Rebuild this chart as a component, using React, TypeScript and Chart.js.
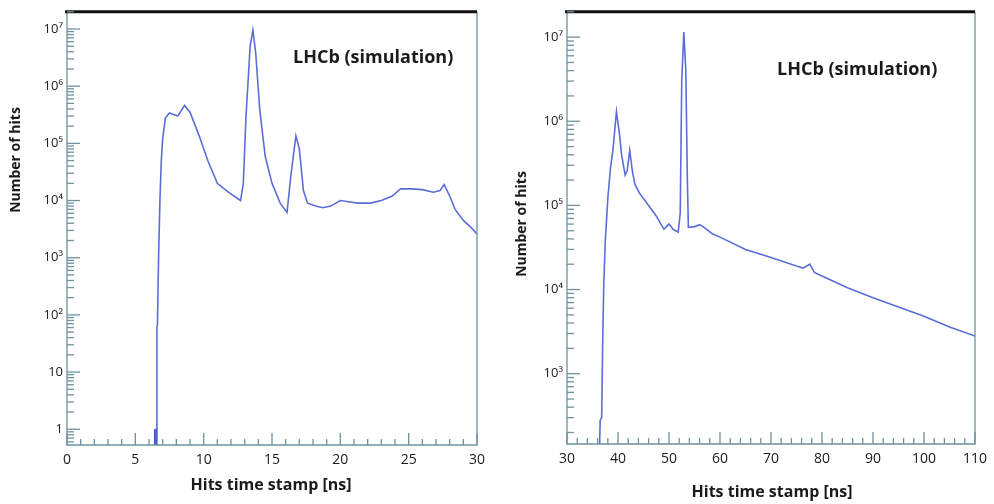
import React, { useEffect, useRef } from "react";
import { Chart, registerables } from "chart.js";

Chart.register(...registerables);

// ---------- data ----------
const leftX = [6.45, 6.5, 6.55, 6.58, 6.62, 6.7, 6.8, 6.9, 7.0, 7.2, 7.5, 7.8, 8.1, 8.6, 9.0, 9.7, 10.3, 11.0, 11.8, 12.7, 12.9, 13.1, 13.4, 13.6, 13.8, 14.1, 14.5, 15.0, 15.6, 16.1, 16.4, 16.75, 17.0, 17.3, 17.6, 18.2, 18.7, 19.3, 20.0, 20.6, 21.3, 22.2, 23.0, 23.8, 24.4, 25.2, 26.0, 26.8, 27.3, 27.6, 28.0, 28.4, 29.0, 29.5, 30];
const leftY = [0.53, 1, 1, 60, 70, 1000, 1e4, 5e4, 1.2e5, 2.8e5, 3.4e5, 3.2e5, 3.0e5, 4.6e5, 3.5e5, 1.3e5, 5e4, 2.0e4, 1.4e4, 1.0e4, 2e4, 3e5, 5e6, 9.5e6, 4e6, 4e5, 6e4, 2e4, 9e3, 6.2e3, 3e4, 1.35e5, 8e4, 1.5e4, 9e3, 8e3, 7.5e3, 8e3, 1.0e4, 9.5e3, 9e3, 9e3, 1.0e4, 1.2e4, 1.6e4, 1.6e4, 1.55e4, 1.4e4, 1.5e4, 1.9e4, 1.2e4, 7e3, 4.5e3, 3.5e3, 2.6e3];
const leftBarX = [6.5, 6.5];
const leftBarY = [0.53, 1];

const rightX = [36.4, 36.5, 36.8, 37.0, 37.2, 37.5, 38.0, 38.5, 39.0, 39.7, 40.3, 40.7, 41.4, 41.8, 42.3, 42.8, 43.3, 44.2, 45.5, 47.5, 49.0, 50.0, 50.8, 51.8, 52.2, 52.5, 52.9, 53.3, 53.6, 53.8, 55.0, 56.0, 57.0, 58.5, 60, 65, 70, 75, 76.3, 77.6, 78.5, 80, 85, 90, 95, 100, 105, 110];
const rightY = [146, 280, 300, 2.4e3, 1.1e4, 3.7e4, 1.2e5, 2.7e5, 4.5e5, 1.3e6, 7e5, 4e5, 2.3e5, 2.6e5, 4.5e5, 2.6e5, 1.8e5, 1.4e5, 1.1e5, 7.5e4, 5.2e4, 6e4, 5.2e4, 4.8e4, 8e4, 3e6, 1.15e7, 4e6, 2e5, 5.5e4, 5.6e4, 5.9e4, 5.4e4, 4.6e4, 4.2e4, 3.0e4, 2.4e4, 1.9e4, 1.8e4, 2.0e4, 1.6e4, 1.45e4, 1.05e4, 8e3, 6.2e3, 4.8e3, 3.6e3, 2.8e3];

const leftYTicks = [1, 10, 100, 1e3, 1e4, 1e5, 1e6, 1e7];
const leftYLabels = ["1", "10", "10²", "10³", "10⁴", "10⁵", "10⁶", "10⁷"];
const leftXTicks = [0, 5, 10, 15, 20, 25, 30];
const rightYTicks = [1e3, 1e4, 1e5, 1e6, 1e7];
const rightYLabels = ["10³", "10⁴", "10⁵", "10⁶", "10⁷"];
const rightXTicks = [30, 40, 50, 60, 70, 80, 90, 100, 110];

const annotation = "LHCb (simulation)";
const xTitle = "Hits time stamp [ns]";
const yTitle = "Number of hits";

// ---------- styles ----------
const LINE = "#5b6dd8";
const AXIS = "#6e929e";
const TEXT = "#1a1a1a";
const FONT = "'Open Sans', Lato, sans-serif";
const TFONT = "'Open Sans', sans-serif";

type Panel = {
  xs: number[]; ys: number[];
  barX?: number[]; barY?: number[];
  xMin: number; xMax: number; xMinorStep: number;
  yMin: number; yMax: number;
  yTicks: number[]; yLabels: string[]; xTicks: number[];
  yAxisWidth: number; xAxisHeight: number;
  pad: { left: number; right: number; top: number; bottom: number };
  yTitlePos: [number, number]; xTitlePos: [number, number]; annPos: [number, number];
};

const panels: Panel[] = [
  {
    xs: leftX, ys: leftY, barX: leftBarX, barY: leftBarY,
    xMin: 0, xMax: 30, xMinorStep: 1, yMin: 0.53, yMax: 2e7,
    yTicks: leftYTicks, yLabels: leftYLabels, xTicks: leftXTicks,
    yAxisWidth: 67, xAxisHeight: 59,
    pad: { left: 0, right: 20, top: 5, bottom: 0 },
    yTitlePos: [16, 160], xTitlePos: [271, 485], annPos: [293, 58],
  },
  {
    xs: rightX, ys: rightY,
    xMin: 30, xMax: 110, xMinorStep: 2, yMin: 146, yMax: 2e7,
    yTicks: rightYTicks, yLabels: rightYLabels, xTicks: rightXTicks,
    yAxisWidth: 70, xAxisHeight: 60,
    pad: { left: 0, right: 16, top: 7, bottom: 0 },
    yTitlePos: [25, 224], xTitlePos: [275, 492], annPos: [280, 70],
  },
];

function makeChart(canvas: HTMLCanvasElement, p: Panel) {
  const decorations = {
    id: "decor",
    afterDraw(chart: any) {
      const { ctx, chartArea: a, scales } = chart;
      const xs = scales.x, ys = scales.y;
      ctx.save();
      // frame
      ctx.strokeStyle = AXIS;
      ctx.lineWidth = 1.3;
      ctx.beginPath();
      ctx.moveTo(a.left, a.top); ctx.lineTo(a.left, a.bottom); ctx.lineTo(a.right, a.bottom); ctx.lineTo(a.right, a.top);
      ctx.stroke();
      ctx.strokeStyle = "#111";
      ctx.lineWidth = 3;
      ctx.beginPath();
      ctx.moveTo(a.left - 2, a.top); ctx.lineTo(a.right, a.top);
      ctx.stroke();
      // y ticks (inside)
      ctx.strokeStyle = AXIS;
      ctx.lineWidth = 1.3;
      const lo = Math.floor(Math.log10(p.yMin)), hi = Math.ceil(Math.log10(p.yMax));
      for (let e = lo; e <= hi; e++) {
        for (let m = 1; m <= 9; m++) {
          const v = m * Math.pow(10, e);
          if (v < p.yMin || v > p.yMax) continue;
          const y = ys.getPixelForValue(v);
          const len = m === 1 ? 13 : 7;
          ctx.beginPath(); ctx.moveTo(a.left, y); ctx.lineTo(a.left + len, y); ctx.stroke();
        }
      }
      // x ticks (inside)
      for (let v = p.xMin; v <= p.xMax + 1e-9; v += p.xMinorStep) {
        const x = xs.getPixelForValue(v);
        const major = p.xTicks.some((t) => Math.abs(t - v) < 1e-9);
        const len = major ? 12 : 6;
        ctx.beginPath(); ctx.moveTo(x, a.bottom); ctx.lineTo(x, a.bottom - len); ctx.stroke();
      }
      // titles
      ctx.fillStyle = TEXT;
      ctx.font = `bold 16px ${TFONT}`;
      ctx.textAlign = "center";
      ctx.textBaseline = "middle";
      ctx.fillText(xTitle, p.xTitlePos[0], p.xTitlePos[1]);
      ctx.save();
      ctx.translate(p.yTitlePos[0], p.yTitlePos[1]);
      ctx.rotate(-Math.PI / 2);
      ctx.font = `bold 14px ${TFONT}`;
      ctx.fillText(yTitle, 0, 0);
      ctx.restore();
      ctx.font = `bold 18px ${TFONT}`;
      ctx.textAlign = "left";
      ctx.fillText(annotation, p.annPos[0], p.annPos[1]);
      ctx.restore();
    },
  };

  const datasets: any[] = [
    {
      data: p.xs.map((x, i) => ({ x, y: p.ys[i] })),
      borderColor: LINE, borderWidth: 1.6, pointRadius: 0, tension: 0, fill: false,
    },
  ];
  if (p.barX && p.barY) {
    datasets.push({
      data: p.barX.map((x, i) => ({ x, y: p.barY![i] })),
      borderColor: "#2a3fc0", borderWidth: 3.5, pointRadius: 0, tension: 0, fill: false,
    });
  }

  return new Chart(canvas, {
    type: "line",
    data: { datasets },
    plugins: [decorations],
    options: {
      animation: false,
      responsive: false,
      devicePixelRatio: 1,
      layout: { padding: p.pad },
      plugins: { legend: { display: false }, tooltip: { enabled: false } },
      scales: {
        x: {
          type: "linear", min: p.xMin, max: p.xMax,
          grid: { display: false, drawTicks: false },
          border: { display: false },
          afterBuildTicks: (s: any) => { s.ticks = p.xTicks.map((v) => ({ value: v })); },
          afterFit: (s: any) => { s.height = p.xAxisHeight; },
          ticks: {
            color: TEXT, padding: 7, maxRotation: 0, autoSkip: false,
            font: { family: FONT, size: 14 },
            callback: (v: any) => String(v),
          },
        },
        y: {
          type: "logarithmic", min: p.yMin, max: p.yMax,
          grid: { display: false, drawTicks: false },
          border: { display: false },
          afterBuildTicks: (s: any) => { s.ticks = p.yTicks.map((v) => ({ value: v })); },
          afterFit: (s: any) => { s.width = p.yAxisWidth; },
          ticks: {
            color: TEXT, padding: 4, autoSkip: false,
            font: { family: FONT, size: 13 },
            callback: (_v: any, i: number) => p.yLabels[i],
          },
        },
      },
    } as any,
  });
}

function Panel({ p }: { p: Panel }) {
  const ref = useRef<HTMLCanvasElement>(null);
  useEffect(() => {
    const c = makeChart(ref.current!, p);
    return () => c.destroy();
  }, [p]);
  return <canvas ref={ref} width={497} height={504} style={{ display: "block", width: 497, height: 504 }} />;
}

export default function App() {
  return (
    <div style={{ position: "absolute", left: 0, top: 0, width: 994, height: 504, display: "flex", background: "#fff" }}>
      <Panel p={panels[0]} />
      <Panel p={panels[1]} />
    </div>
  );
}
